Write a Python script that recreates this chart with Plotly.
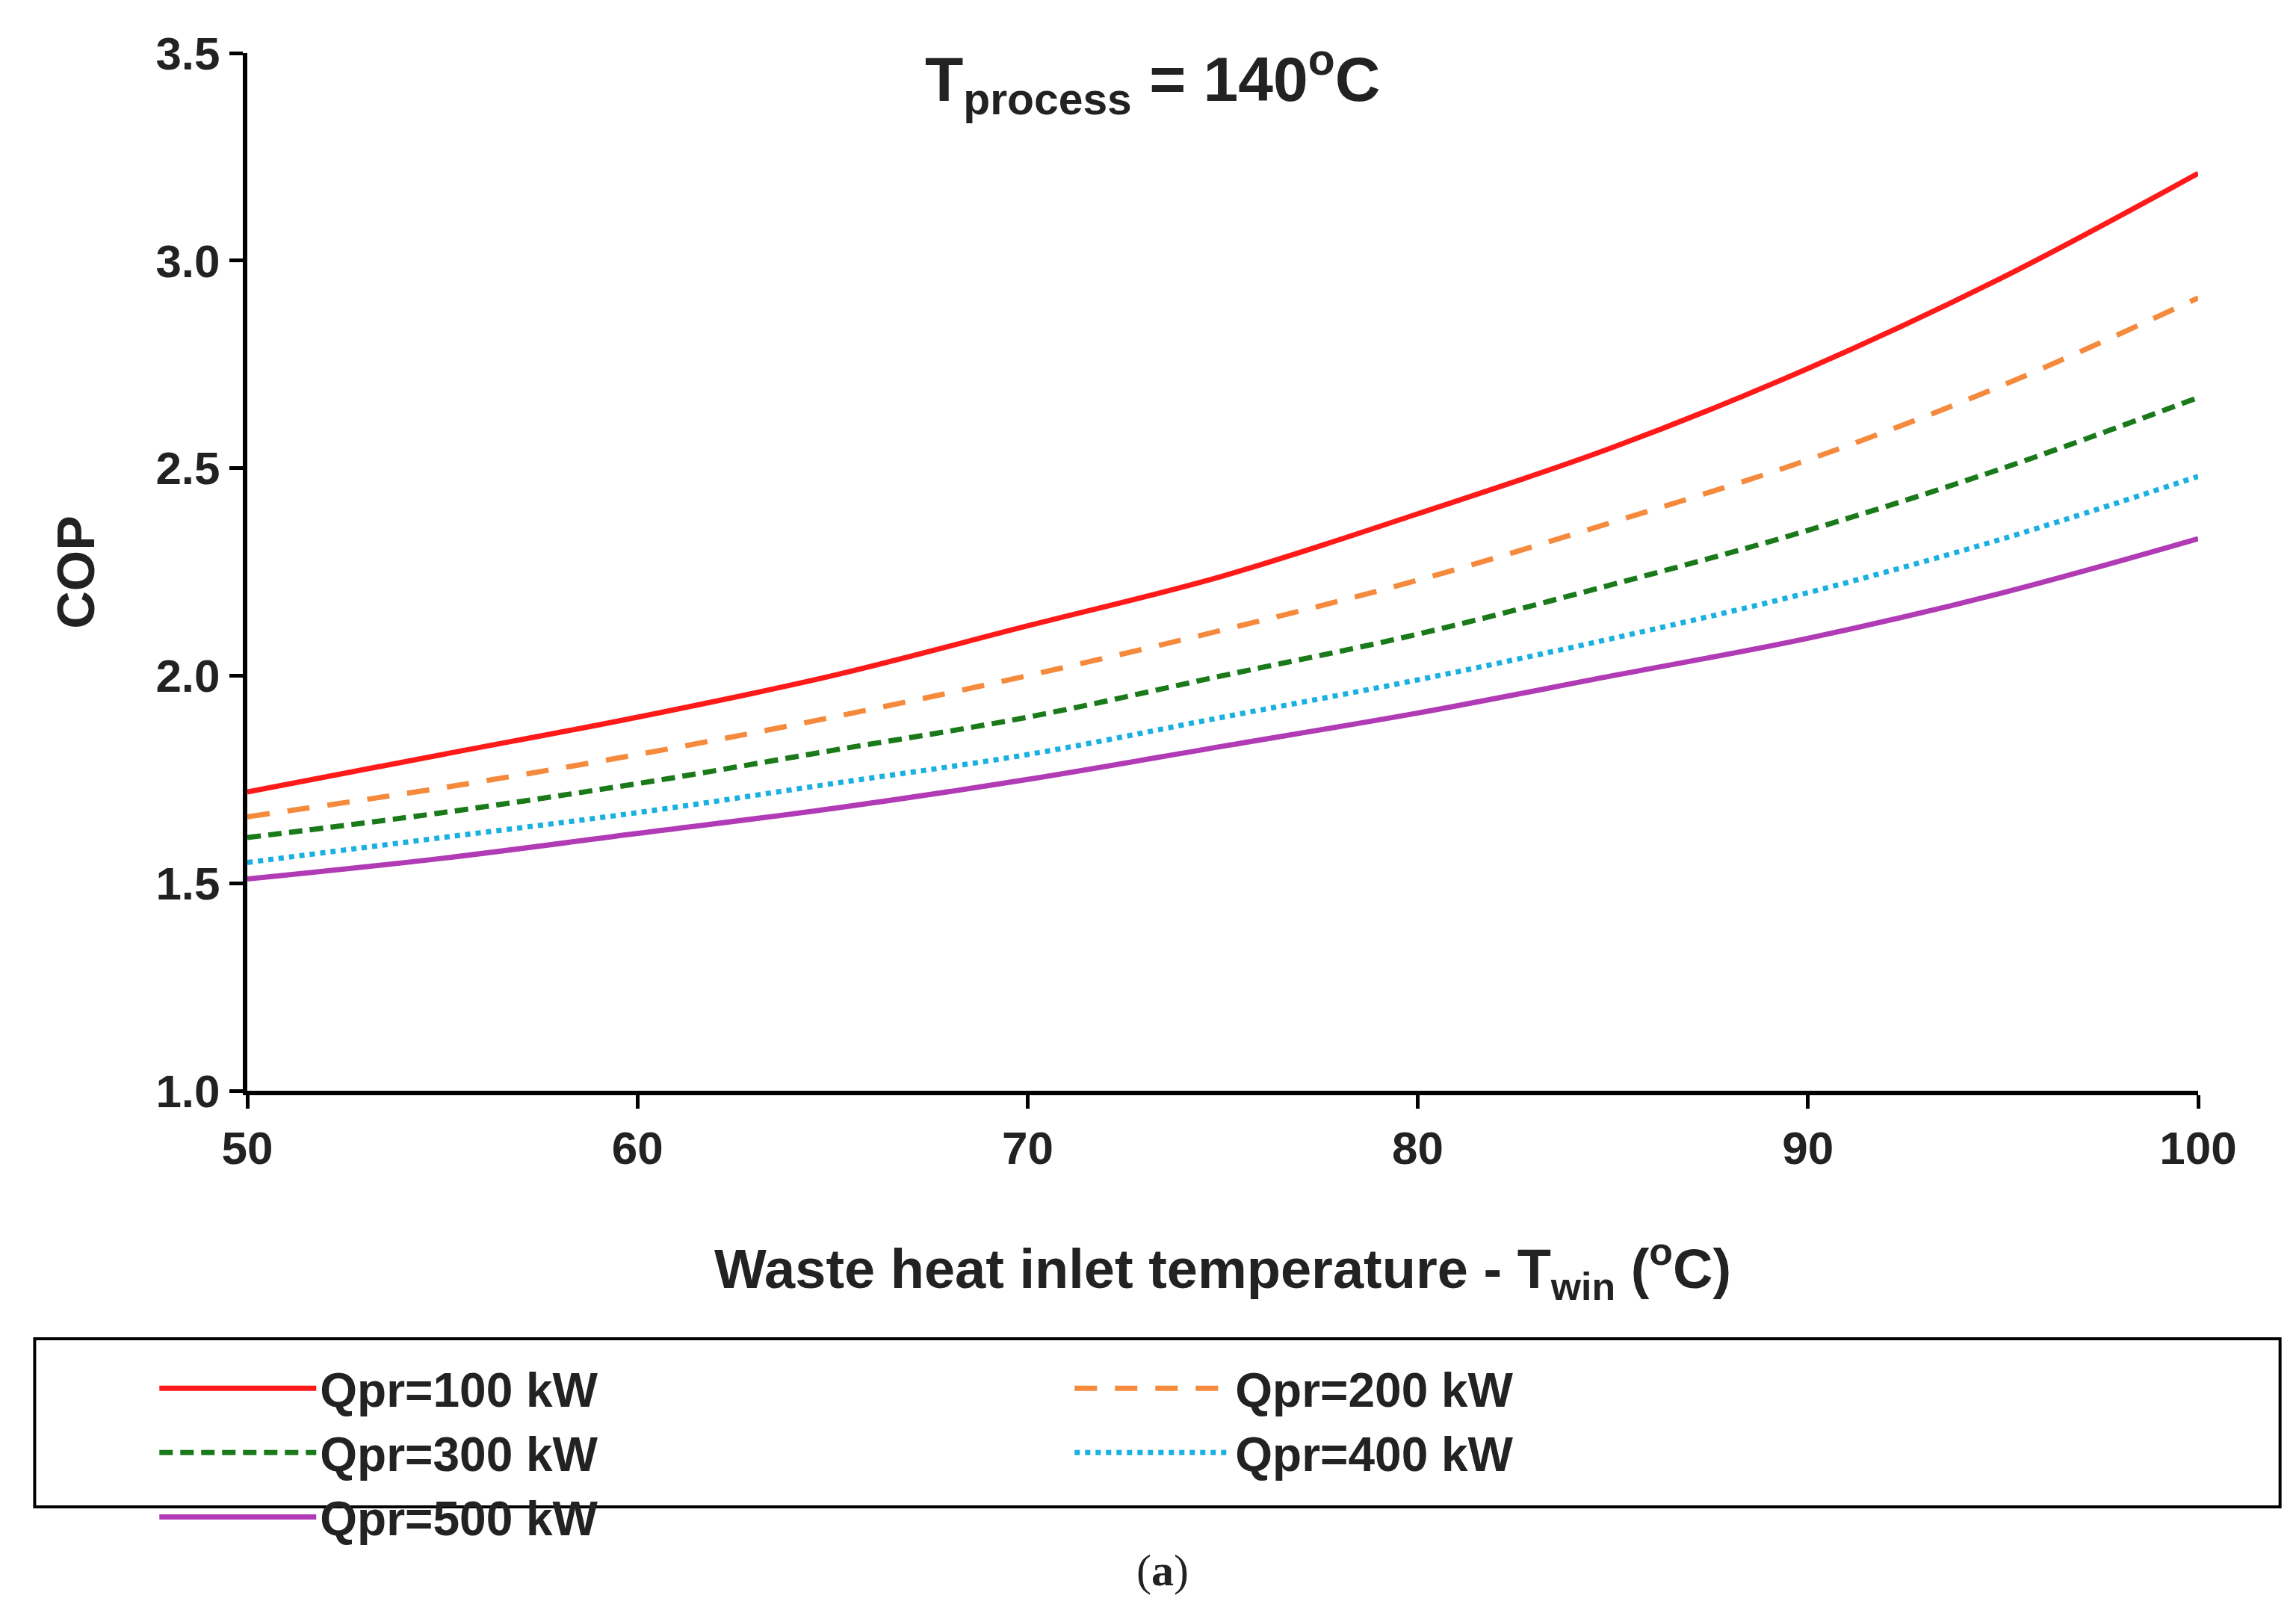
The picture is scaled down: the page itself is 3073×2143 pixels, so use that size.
import plotly.graph_objects as go

x_vals = [50, 55, 60, 65, 70, 75, 80, 85, 90, 95, 100]
cop_100 = [1.72, 1.81, 1.90, 2.00, 2.12, 2.24, 2.39, 2.55, 2.74, 2.96, 3.21]
cop_200 = [1.66, 1.73, 1.81, 1.90, 2.00, 2.11, 2.23, 2.37, 2.52, 2.70, 2.91]
cop_300 = [1.61, 1.67, 1.74, 1.82, 1.90, 2.00, 2.10, 2.22, 2.35, 2.50, 2.67]
cop_400 = [1.55, 1.61, 1.67, 1.74, 1.81, 1.90, 1.99, 2.09, 2.20, 2.33, 2.48]
cop_500 = [1.51, 1.56, 1.62, 1.68, 1.75, 1.83, 1.91, 2.00, 2.09, 2.20, 2.33]
series_names = ["Qpr=100 kW", "Qpr=200 kW", "Qpr=300 kW", "Qpr=400 kW", "Qpr=500 kW"]

FONT = "Liberation Sans, Arial, sans-serif"
styles = [
    ("#ff1a1a", "solid"),
    ("#f58a3c", "30px,24px"),
    ("#1a7a1a", "18px,10px"),
    ("#1ab0e0", "dot"),
    ("#b13bb5", "solid"),
]

fig = go.Figure()
for name, ys, (color, dash) in zip(series_names, [cop_100, cop_200, cop_300, cop_400, cop_500], styles):
    fig.add_trace(go.Scatter(x=x_vals, y=ys, mode="lines", name=name,
                             line=dict(color=color, dash=dash, width=7, shape="spline")))

axis_common = dict(showline=True, linecolor="black", linewidth=6, ticks="outside",
                   ticklen=18, tickwidth=5, tickcolor="black", showgrid=False, zeroline=False,
                   tickfont=dict(family=FONT, size=62, color="#222", weight="bold"))

fig.update_layout(
    width=3073, height=2143,
    paper_bgcolor="white", plot_bgcolor="white",
    margin=dict(l=323, r=139, t=63, b=691),
    font=dict(family=FONT, color="#222"),
    xaxis=dict(range=[50, 100], dtick=10, **axis_common),
    yaxis=dict(range=[1.0, 3.5], dtick=0.5, tickformat=".1f", **axis_common),
    legend=dict(orientation="h", x=-0.047, y=-0.252, xanchor="left", yanchor="top",
                entrywidth=1000, entrywidthmode="pixels", itemwidth=210,
                borderwidth=0, bgcolor="rgba(0,0,0,0)",
                font=dict(family=FONT, size=64, color="#222", weight="bold"), traceorder="normal"),
    showlegend=True,
)

# legend frame
fig.add_shape(type="rect", xref="paper", yref="paper", x0=-0.109, x1=1.042, y0=-0.401, y1=-0.239,
              line=dict(color="black", width=4), fillcolor="rgba(0,0,0,0)", layer="below")

fig.add_annotation(text="<b>T<sub>process</sub> = 140<sup>o</sup>C</b>", xref="paper", yref="paper",
                   x=0.464, y=0.975, xanchor="center", yanchor="middle", showarrow=False,
                   font=dict(family=FONT, size=84, color="#222"))
fig.add_annotation(text="<b>Waste heat inlet temperature - T<sub>win</sub> (<sup>o</sup>C)</b>",
                   xref="paper", yref="paper", x=0.50, y=-0.172, xanchor="center", yanchor="middle",
                   showarrow=False, font=dict(family=FONT, size=74, color="#222"))
fig.add_annotation(text="<b>COP</b>", xref="paper", yref="paper", x=-0.088, y=0.5, textangle=-90,
                   xanchor="center", yanchor="middle", showarrow=False,
                   font=dict(family=FONT, size=70, color="#222"))
fig.add_annotation(text="(<b>a</b>)", xref="paper", yref="paper", x=0.469, y=-0.462,
                   xanchor="center", yanchor="middle", showarrow=False,
                   font=dict(family="Liberation Serif, Times New Roman, serif", size=60, color="#222"))

fig.write_html("out.html")
